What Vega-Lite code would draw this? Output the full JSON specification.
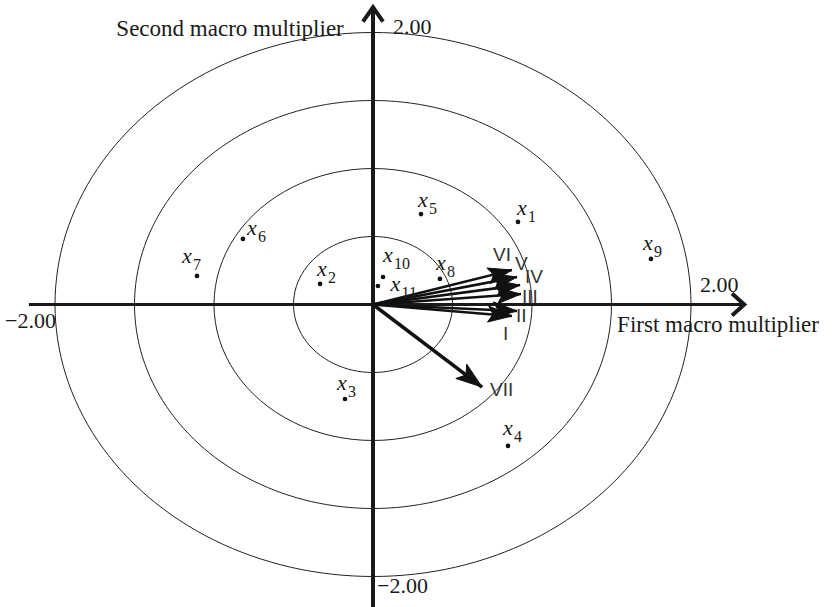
{
  "$schema": "https://vega.github.io/schema/vega-lite/v6.json",
  "width": 835,
  "height": 607,
  "autosize": "none",
  "padding": 0,
  "background": "white",
  "config": {"view": {"stroke": null}},
  "encoding": {
    "x": {"field": "x", "type": "quantitative", "scale": {"domain": [-2.3459, 2.9057], "nice": false, "zero": false}, "axis": null},
    "y": {"field": "y", "type": "quantitative", "scale": {"domain": [-2.2243, 2.239], "nice": false, "zero": false}, "axis": null}
  },
  "layer": [
    {
      "data": {"values": [
        {"r":0.5,"i":0,"x":0.5,"y":0},{"r":0.5,"i":1,"x":0.483,"y":0.1294},{"r":0.5,"i":2,"x":0.433,"y":0.25},{"r":0.5,"i":3,"x":0.3536,"y":0.3536},{"r":0.5,"i":4,"x":0.25,"y":0.433},{"r":0.5,"i":5,"x":0.1294,"y":0.483},{"r":0.5,"i":6,"x":0,"y":0.5},{"r":0.5,"i":7,"x":-0.1294,"y":0.483},{"r":0.5,"i":8,"x":-0.25,"y":0.433},{"r":0.5,"i":9,"x":-0.3536,"y":0.3536},{"r":0.5,"i":10,"x":-0.433,"y":0.25},{"r":0.5,"i":11,"x":-0.483,"y":0.1294},{"r":0.5,"i":12,"x":-0.5,"y":0},{"r":0.5,"i":13,"x":-0.483,"y":-0.1294},{"r":0.5,"i":14,"x":-0.433,"y":-0.25},{"r":0.5,"i":15,"x":-0.3536,"y":-0.3536},{"r":0.5,"i":16,"x":-0.25,"y":-0.433},{"r":0.5,"i":17,"x":-0.1294,"y":-0.483},{"r":0.5,"i":18,"x":0,"y":-0.5},{"r":0.5,"i":19,"x":0.1294,"y":-0.483},{"r":0.5,"i":20,"x":0.25,"y":-0.433},{"r":0.5,"i":21,"x":0.3536,"y":-0.3536},{"r":0.5,"i":22,"x":0.433,"y":-0.25},{"r":0.5,"i":23,"x":0.483,"y":-0.1294},
        {"r":1,"i":0,"x":1,"y":0},{"r":1,"i":1,"x":0.9659,"y":0.2588},{"r":1,"i":2,"x":0.866,"y":0.5},{"r":1,"i":3,"x":0.7071,"y":0.7071},{"r":1,"i":4,"x":0.5,"y":0.866},{"r":1,"i":5,"x":0.2588,"y":0.9659},{"r":1,"i":6,"x":0,"y":1},{"r":1,"i":7,"x":-0.2588,"y":0.9659},{"r":1,"i":8,"x":-0.5,"y":0.866},{"r":1,"i":9,"x":-0.7071,"y":0.7071},{"r":1,"i":10,"x":-0.866,"y":0.5},{"r":1,"i":11,"x":-0.9659,"y":0.2588},{"r":1,"i":12,"x":-1,"y":0},{"r":1,"i":13,"x":-0.9659,"y":-0.2588},{"r":1,"i":14,"x":-0.866,"y":-0.5},{"r":1,"i":15,"x":-0.7071,"y":-0.7071},{"r":1,"i":16,"x":-0.5,"y":-0.866},{"r":1,"i":17,"x":-0.2588,"y":-0.9659},{"r":1,"i":18,"x":0,"y":-1},{"r":1,"i":19,"x":0.2588,"y":-0.9659},{"r":1,"i":20,"x":0.5,"y":-0.866},{"r":1,"i":21,"x":0.7071,"y":-0.7071},{"r":1,"i":22,"x":0.866,"y":-0.5},{"r":1,"i":23,"x":0.9659,"y":-0.2588},
        {"r":1.5,"i":0,"x":1.5,"y":0},{"r":1.5,"i":1,"x":1.4489,"y":0.3882},{"r":1.5,"i":2,"x":1.299,"y":0.75},{"r":1.5,"i":3,"x":1.0607,"y":1.0607},{"r":1.5,"i":4,"x":0.75,"y":1.299},{"r":1.5,"i":5,"x":0.3882,"y":1.4489},{"r":1.5,"i":6,"x":0,"y":1.5},{"r":1.5,"i":7,"x":-0.3882,"y":1.4489},{"r":1.5,"i":8,"x":-0.75,"y":1.299},{"r":1.5,"i":9,"x":-1.0607,"y":1.0607},{"r":1.5,"i":10,"x":-1.299,"y":0.75},{"r":1.5,"i":11,"x":-1.4489,"y":0.3882},{"r":1.5,"i":12,"x":-1.5,"y":0},{"r":1.5,"i":13,"x":-1.4489,"y":-0.3882},{"r":1.5,"i":14,"x":-1.299,"y":-0.75},{"r":1.5,"i":15,"x":-1.0607,"y":-1.0607},{"r":1.5,"i":16,"x":-0.75,"y":-1.299},{"r":1.5,"i":17,"x":-0.3882,"y":-1.4489},{"r":1.5,"i":18,"x":0,"y":-1.5},{"r":1.5,"i":19,"x":0.3882,"y":-1.4489},{"r":1.5,"i":20,"x":0.75,"y":-1.299},{"r":1.5,"i":21,"x":1.0607,"y":-1.0607},{"r":1.5,"i":22,"x":1.299,"y":-0.75},{"r":1.5,"i":23,"x":1.4489,"y":-0.3882},
        {"r":2,"i":0,"x":2,"y":0},{"r":2,"i":1,"x":1.9319,"y":0.5176},{"r":2,"i":2,"x":1.7321,"y":1},{"r":2,"i":3,"x":1.4142,"y":1.4142},{"r":2,"i":4,"x":1,"y":1.7321},{"r":2,"i":5,"x":0.5176,"y":1.9319},{"r":2,"i":6,"x":0,"y":2},{"r":2,"i":7,"x":-0.5176,"y":1.9319},{"r":2,"i":8,"x":-1,"y":1.7321},{"r":2,"i":9,"x":-1.4142,"y":1.4142},{"r":2,"i":10,"x":-1.7321,"y":1},{"r":2,"i":11,"x":-1.9319,"y":0.5176},{"r":2,"i":12,"x":-2,"y":0},{"r":2,"i":13,"x":-1.9319,"y":-0.5176},{"r":2,"i":14,"x":-1.7321,"y":-1},{"r":2,"i":15,"x":-1.4142,"y":-1.4142},{"r":2,"i":16,"x":-1,"y":-1.7321},{"r":2,"i":17,"x":-0.5176,"y":-1.9319},{"r":2,"i":18,"x":0,"y":-2},{"r":2,"i":19,"x":0.5176,"y":-1.9319},{"r":2,"i":20,"x":1,"y":-1.7321},{"r":2,"i":21,"x":1.4142,"y":-1.4142},{"r":2,"i":22,"x":1.7321,"y":-1},{"r":2,"i":23,"x":1.9319,"y":-0.5176}
      ]},
      "mark": {"type": "line", "interpolate": "cardinal-closed", "stroke": "#222222", "strokeWidth": 1},
      "encoding": {"detail": {"field": "r"}, "order": {"field": "i", "type": "quantitative"}}
    },
    {
      "data": {"values": [{"x": -2.164, "y": 0, "x2": 2.33, "y2": 0}]},
      "mark": {"type": "rule", "strokeWidth": 3, "color": "#1a1a1a"},
      "encoding": {"x2": {"field": "x2"}, "y2": {"field": "y2"}}
    },
    {
      "data": {"values": [{"x": 0, "y": -2.3, "x2": 0, "y2": 2.18}]},
      "mark": {"type": "rule", "strokeWidth": 4, "color": "#1a1a1a"},
      "encoding": {"x2": {"field": "x2"}, "y2": {"field": "y2"}}
    },
    {
      "data": {"values": [
        {"a":"top","k":0,"x":-0.063,"y":2.08},{"a":"top","k":1,"x":0,"y":2.185},{"a":"top","k":2,"x":0.063,"y":2.08},
        {"a":"right","k":0,"x":2.258,"y":0.081},{"a":"right","k":1,"x":2.335,"y":0},{"a":"right","k":2,"x":2.258,"y":-0.081}
      ]},
      "mark": {"type": "line", "strokeWidth": 4, "stroke": "#1a1a1a", "strokeJoin": "miter", "strokeCap": "butt"},
      "encoding": {"detail": {"field": "a"}, "order": {"field": "k", "type": "quantitative"}}
    },
    {
      "data": {"values": [
        {"name":"VI","x":0.874,"y":0.254},{"name":"V","x":0.906,"y":0.202},{"name":"IV","x":0.925,"y":0.143},{"name":"III","x":0.931,"y":0.077},{"name":"II","x":0.906,"y":-0.048},{"name":"I","x":0.874,"y":-0.085}
      ]},
      "mark": {"type": "rule", "strokeWidth": 2.5, "color": "#111111"},
      "encoding": {"x": {"datum": 0}, "y": {"datum": 0}, "x2": {"field": "x"}, "y2": {"field": "y"}}
    },
    {
      "data": {"values": [{"name":"VII","x":0.686,"y":-0.607}]},
      "mark": {"type": "rule", "strokeWidth": 3.5, "color": "#111111"},
      "encoding": {"x": {"datum": 0}, "y": {"datum": 0}, "x2": {"field": "x"}, "y2": {"field": "y"}}
    },
    {
      "data": {"values": [
        {"a":"VI","k":0,"x":0.874,"y":0.254},{"a":"VI","k":1,"x":0.74,"y":0.154},{"a":"VI","k":2,"x":0.758,"y":0.22},{"a":"VI","k":3,"x":0.716,"y":0.268},
        {"a":"V","k":0,"x":0.906,"y":0.202},{"a":"V","k":1,"x":0.767,"y":0.111},{"a":"V","k":2,"x":0.788,"y":0.176},{"a":"V","k":3,"x":0.748,"y":0.227},
        {"a":"IV","k":0,"x":0.925,"y":0.143},{"a":"IV","k":1,"x":0.781,"y":0.062},{"a":"IV","k":2,"x":0.806,"y":0.125},{"a":"IV","k":3,"x":0.768,"y":0.178},
        {"a":"III","k":0,"x":0.931,"y":0.077},{"a":"III","k":1,"x":0.784,"y":0.006},{"a":"III","k":2,"x":0.812,"y":0.067},{"a":"III","k":3,"x":0.777,"y":0.123},
        {"a":"II","k":0,"x":0.906,"y":-0.048},{"a":"II","k":1,"x":0.753,"y":-0.099},{"a":"II","k":2,"x":0.786,"y":-0.041},{"a":"II","k":3,"x":0.757,"y":0.019},
        {"a":"I","k":0,"x":0.874,"y":-0.085},{"a":"I","k":1,"x":0.72,"y":-0.129},{"a":"I","k":2,"x":0.755,"y":-0.073},{"a":"I","k":3,"x":0.728,"y":-0.011},
        {"a":"VII","k":0,"x":0.686,"y":-0.607},{"a":"VII","k":1,"x":0.521,"y":-0.544},{"a":"VII","k":2,"x":0.585,"y":-0.518},{"a":"VII","k":3,"x":0.589,"y":-0.438}
      ]},
      "mark": {"type": "line", "interpolate": "linear-closed", "stroke": "#111111", "fill": "#111111", "strokeWidth": 1, "strokeJoin": "miter"},
      "encoding": {"detail": {"field": "a"}, "order": {"field": "k", "type": "quantitative"}}
    },
    {
      "data": {"values": [
        {"name":"VI","x":0.755,"y":0.32},{"name":"V","x":0.893,"y":0.254},{"name":"IV","x":0.956,"y":0.158},{"name":"III","x":0.937,"y":0.011},{"name":"II","x":0.899,"y":-0.129},{"name":"I","x":0.818,"y":-0.261},{"name":"VII","x":0.736,"y":-0.673}
      ]},
      "mark": {"type": "text", "align": "left", "baseline": "alphabetic", "font": "Liberation Sans", "fontSize": 19, "color": "#333333"},
      "encoding": {"text": {"field": "name"}}
    },
    {
      "data": {"values": [
        {"name":"x1","x":0.912,"y":0.607},{"name":"x2","x":-0.333,"y":0.151},{"name":"x3","x":-0.176,"y":-0.695},{"name":"x4","x":0.849,"y":-1.04},{"name":"x5","x":0.302,"y":0.665},{"name":"x6","x":-0.818,"y":0.482},{"name":"x7","x":-1.107,"y":0.21},{"name":"x8","x":0.421,"y":0.188},{"name":"x9","x":1.748,"y":0.335},{"name":"x10","x":0.063,"y":0.202},{"name":"x11","x":0.031,"y":0.136}
      ]},
      "mark": {"type": "point", "filled": true, "size": 22, "color": "#111111", "opacity": 1}
    },
    {
      "data": {"name": "pointLabels", "values": [
        {"sub":"1","x":0.906,"y":0.658},{"sub":"2","x":-0.352,"y":0.21},{"sub":"3","x":-0.226,"y":-0.629},{"sub":"4","x":0.818,"y":-0.96},{"sub":"5","x":0.283,"y":0.717},{"sub":"6","x":-0.792,"y":0.511},{"sub":"7","x":-1.201,"y":0.305},{"sub":"8","x":0.396,"y":0.254},{"sub":"9","x":1.698,"y":0.401},{"sub":"10","x":0.063,"y":0.315},{"sub":"11","x":0.11,"y":0.1}
      ]},
      "layer": [
        {
          "mark": {"type": "text", "text": "x", "align": "left", "baseline": "alphabetic", "font": "Liberation Serif", "fontStyle": "italic", "fontSize": 22, "color": "#1a1a1a"}
        },
        {
          "mark": {"type": "text", "align": "left", "baseline": "alphabetic", "font": "Liberation Serif", "fontSize": 16, "dx": 11, "dy": 7, "color": "#1a1a1a"},
          "encoding": {"text": {"field": "sub"}}
        }
      ]
    },
    {
      "data": {"values": [
        {"t":"2.00","x":0.126,"y":1.989},{"t":"−2.00","x":0.025,"y":-2.121},{"t":"−2.00","x":-2.314,"y":-0.173},{"t":"2.00","x":2.057,"y":0.092}
      ]},
      "mark": {"type": "text", "align": "left", "baseline": "alphabetic", "font": "Liberation Serif", "fontSize": 22, "color": "#1a1a1a"},
      "encoding": {"text": {"field": "t"}}
    },
    {
      "data": {"values": [
        {"t":"First macro multiplier","x":2.17,"y":-0.202},{"t":"Second macro multiplier","x":-0.899,"y":1.974}
      ]},
      "mark": {"type": "text", "align": "center", "baseline": "alphabetic", "font": "Liberation Serif", "fontSize": 23, "color": "#1a1a1a"},
      "encoding": {"text": {"field": "t"}}
    }
  ]
}
